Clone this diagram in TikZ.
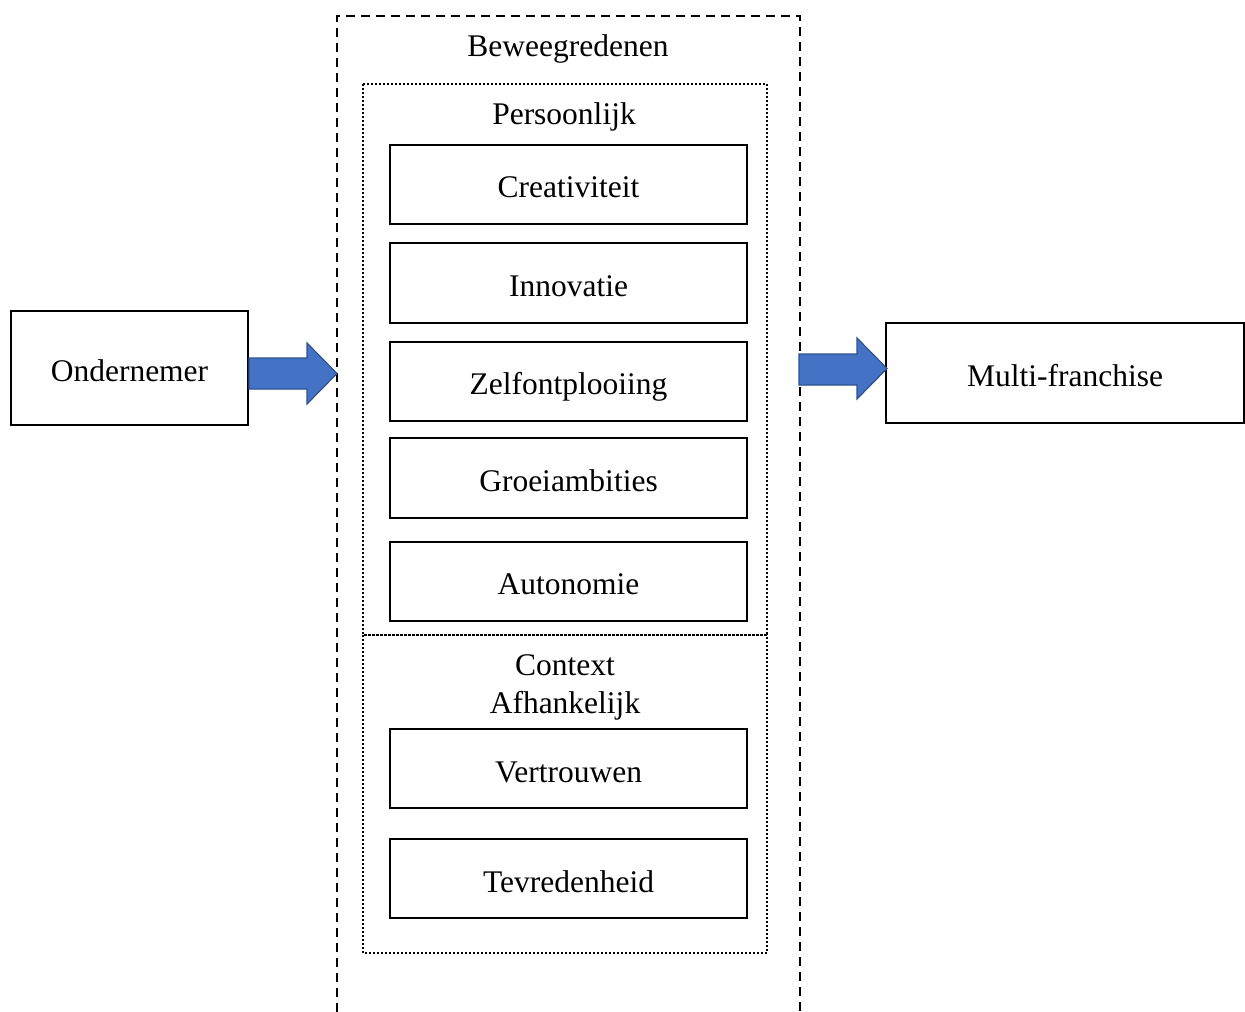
\documentclass[tikz,border=0pt]{standalone}
\usepackage{fontspec}
\setmainfont{Liberation Serif}
\definecolor{arrfill}{HTML}{4472C4}
\definecolor{arrdraw}{HTML}{2F528F}
\begin{document}
\begin{tikzpicture}[x=1pt,y=-1pt,
  box/.style={draw,line width=2.8pt,fill=white},
  txt/.style={font=\fontsize{31.5}{36}\selectfont,inner sep=0pt},
  fat/.style={draw=arrdraw,fill=arrfill,line width=1.2pt,line join=miter}]
\useasboundingbox (0,0) rectangle (1245,1012);
% outer dashed region (open at bottom)
\draw[line width=2.8pt,dash pattern=on 9pt off 6pt] (337,1012) -- (337,16) -- (800,16) -- (800,1012);
% dotted groups
\draw[line width=2.2pt,dash pattern=on 2pt off 2pt] (363,84) rectangle (767,635);
\draw[line width=2.2pt,dash pattern=on 2pt off 2pt] (363,635) rectangle (767,953);
% titles
\node[txt] (tb) at (568,49) {Beweegredenen};
\node[txt] (tp) at (564,117) {Persoonlijk};
\node[txt,align=center,text width=200pt,font=\fontsize{31.5}{38}\selectfont] (tc) at (565,687) {Context\\Afhankelijk};
% inner boxes
\draw[box] (390,145) rectangle (747,224); \node[txt] (b1) at (568.5,187) {Creativiteit};
\draw[box] (390,243) rectangle (747,323); \node[txt] (b2) at (568.5,286) {Innovatie};
\draw[box] (390,342) rectangle (747,421); \node[txt] (b3) at (568.5,387) {Zelfontplooiing};
\draw[box] (390,438) rectangle (747,518); \node[txt] (b4) at (568.5,481) {Groeiambities};
\draw[box] (390,542) rectangle (747,621); \node[txt] (b5) at (568.5,584) {Autonomie};
\draw[box] (390,729) rectangle (747,808); \node[txt] (b6) at (568.5,772) {Vertrouwen};
\draw[box] (390,839) rectangle (747,918); \node[txt] (b7) at (568.5,882) {Tevredenheid};
% side boxes
\draw[box] (11,311) rectangle (248,425); \node[txt] (on) at (129.5,371) {Ondernemer};
\draw[box] (886,323) rectangle (1244,423); \node[txt] (mf) at (1065,376) {Multi-franchise};
% block arrows
\draw[fat] (249,358) -- (307,358) -- (307,343) -- (337,373.5) -- (307,404) -- (307,389) -- (249,389) -- cycle;
\draw[fat] (799,354) -- (857,354) -- (857,338) -- (887,368.5) -- (857,399) -- (857,385) -- (799,385) -- cycle;
\end{tikzpicture}
\end{document}
